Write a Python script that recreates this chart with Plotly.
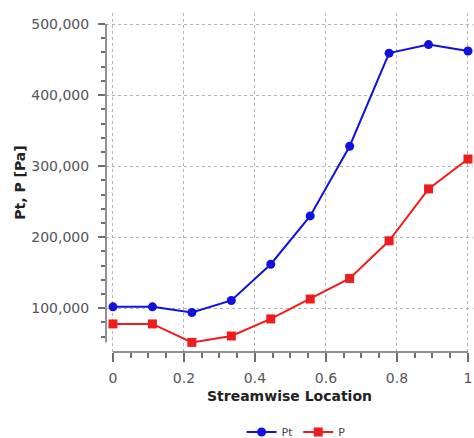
import plotly.graph_objects as go

# Streamwise stations (10 equally spaced locations)
location = [0, 1/9, 2/9, 3/9, 4/9, 5/9, 6/9, 7/9, 8/9, 1]

# Total pressure and static pressure [Pa]
pt_values = [102000, 102000, 94000, 111000, 162000, 230000, 328000, 459000, 471000, 462000]
p_values = [78000, 78000, 52000, 61000, 85000, 113000, 142000, 195000, 268000, 310000]

y_major = [100000, 200000, 300000, 400000, 500000]

FONT = "DejaVu Sans"
AXIS_COLOR = "#6e6e6e"
GRID_COLOR = "#b4b4b4"

fig = go.Figure()
fig.add_trace(go.Scatter(
    x=location, y=pt_values, name="Pt", mode="lines+markers",
    line=dict(color="#1010e0", width=2),
    marker=dict(symbol="circle", size=9, color="#1010e0"),
))
fig.add_trace(go.Scatter(
    x=location, y=p_values, name="P", mode="lines+markers",
    line=dict(color="#ee1c1c", width=2),
    marker=dict(symbol="square", size=9, color="#ee1c1c"),
))

# Detached axis lines: x spans the data locations, y spans data minimum to top tick
fig.add_shape(type="line", xref="x", yref="paper",
              x0=min(location), x1=max(location), y0=0, y1=0,
              line=dict(color=AXIS_COLOR, width=1.5))
fig.add_shape(type="line", xref="paper", yref="y",
              x0=0, x1=0, y0=min(p_values + pt_values), y1=max(y_major),
              line=dict(color=AXIS_COLOR, width=1.5))

minor_y = [v for v in range(60000, 500001, 20000) if v not in y_major]

fig.update_layout(
    width=474, height=438,
    margin=dict(l=106, r=1, t=13, b=86, autoexpand=False),
    paper_bgcolor="white", plot_bgcolor="white",
    font=dict(family=FONT, size=14, color="#555555"),
    showlegend=True,
    legend=dict(orientation="h", x=0.518, xanchor="center", y=-0.236, yanchor="middle",
                font=dict(size=11, color="#444444"), itemwidth=30,
                tracegroupgap=0, bgcolor="rgba(0,0,0,0)"),
    xaxis=dict(
        range=[-0.0197, 1.0141], automargin=False,
        tickmode="linear", tick0=0, dtick=0.2,
        ticks="outside", ticklen=9, tickwidth=1.5, tickcolor=AXIS_COLOR,
        ticklabelstandoff=4,
        showline=False, zeroline=False,
        showgrid=True, gridcolor=GRID_COLOR, griddash="dot", gridwidth=1,
        minor=dict(tickmode="linear", tick0=0, dtick=0.05, ticks="outside",
                   ticklen=5, tickwidth=1.5, tickcolor=AXIS_COLOR, showgrid=False),
        tickfont=dict(family=FONT, size=14, color="#555555"),
        title=dict(text="Streamwise Location", standoff=6,
                   font=dict(family=FONT, size=14, color="#222222", weight="bold")),
    ),
    yaxis=dict(
        range=[38483, 515477], automargin=False,
        tickmode="array", tickvals=y_major, tickformat=",",
        ticks="outside", ticklen=7, tickwidth=1.5, tickcolor=AXIS_COLOR,
        ticklabelstandoff=6,
        showline=False, zeroline=False,
        showgrid=True, gridcolor=GRID_COLOR, griddash="dot", gridwidth=1,
        minor=dict(tickmode="array", tickvals=minor_y, ticks="outside",
                   ticklen=4, tickwidth=1.5, tickcolor=AXIS_COLOR, showgrid=False),
        tickfont=dict(family=FONT, size=14, color="#555555"),
        title=dict(text="Pt, P [Pa]", standoff=2,
                   font=dict(family=FONT, size=14, color="#222222", weight="bold")),
    ),
)

fig.write_html("out.html")
